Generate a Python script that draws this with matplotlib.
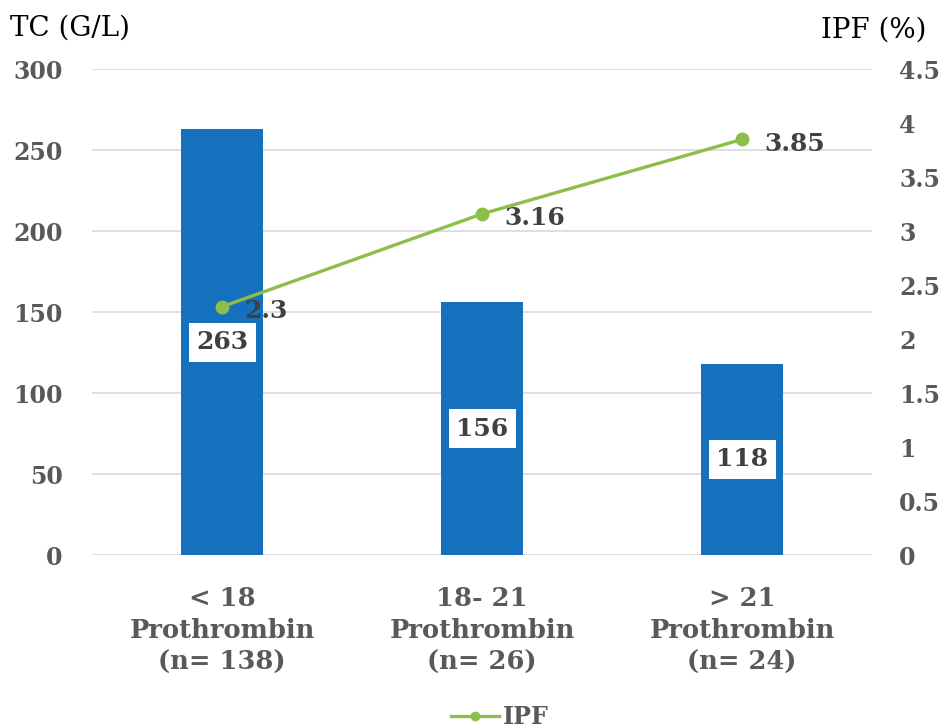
import matplotlib.pyplot as plt
import numpy as np
from matplotlib.lines import Line2D

# data
groups = ['< 18\nProthrombin\n(n= 138)', '18- 21\nProthrombin\n(n= 26)', '> 21\nProthrombin\n(n= 24)']
tc = [263, 156, 118]
ipf = [2.3, 3.16, 3.85]
tc_ticks = [0, 50, 100, 150, 200, 250, 300]
ipf_ticks = [0, 0.5, 1, 1.5, 2, 2.5, 3, 3.5, 4, 4.5]

blue = '#1570BE'
green = '#8DBE4A'
grey = '#595959'
dark = '#404040'

plt.rcParams['font.family'] = ['DejaVu Serif']

fig = plt.figure(figsize=(9.44, 7.28), dpi=100)
ax = fig.add_axes([0.0975, 0.2376, 0.8265, 0.6674])
ax2 = ax.twinx()

x = np.arange(len(groups))
ax.bar(x, tc, width=0.315, color=blue, zorder=2)
ax.set_ylim(0, 300)
ax.set_xlim(-0.5, 2.5)
ax.set_yticks(tc_ticks)
ax.set_yticklabels([str(t) for t in tc_ticks])
ax.grid(axis='y', color='#D9D9D9', linewidth=1.2, zorder=0)
ax.set_axisbelow(True)
ax.set_xticks(x)
ax.set_xticklabels(groups, fontsize=18.5, fontweight='bold', color=grey,
                   linespacing=1.35)
ax.tick_params(axis='x', length=0, pad=22)
ax.tick_params(axis='y', length=0, pad=21, labelsize=17, labelcolor=grey)
for lab in ax.get_yticklabels():
    lab.set_fontweight('bold')
for s in ax.spines.values():
    s.set_visible(False)

for xi, v in zip(x, tc):
    ax.text(xi, v / 2, str(v), ha='center', va='center', fontsize=18,
            fontweight='bold', color=dark, zorder=4,
            bbox=dict(boxstyle='square,pad=0.3', fc='white', ec='none'))

ax2.plot(x, ipf, color=green, linewidth=2.4, marker='o', markersize=9, zorder=5)
ax2.set_ylim(0, 4.5)
ax2.set_yticks(ipf_ticks)
ax2.set_yticklabels([('%g' % t) for t in ipf_ticks])
ax2.tick_params(axis='y', length=0, pad=19.5, labelsize=17, labelcolor=grey)
for lab in ax2.get_yticklabels():
    lab.set_fontweight('bold')
for s in ax2.spines.values():
    s.set_visible(False)

for xi, v in zip(x, ipf):
    ax2.annotate('%g' % v, (xi, v), xytext=(16, -3), textcoords='offset points',
                 ha='left', va='center', fontsize=18, fontweight='bold', color=dark)

fig.text(0.011, 0.962, 'TC (G/L)', fontsize=20, color='black', ha='left', va='center')
fig.text(0.981, 0.958, 'IPF (%)', fontsize=20, color='black', ha='right', va='center')

handle = Line2D([], [], color=green, linewidth=2.4, marker='o', markersize=6)
fig.legend([handle], ['IPF'], loc='center', bbox_to_anchor=(0.53, 0.015),
           frameon=False, handlelength=2.0, handletextpad=0.2,
           prop=dict(size=17, weight='bold'), labelcolor=grey)

fig.savefig('out.png', dpi=100)
